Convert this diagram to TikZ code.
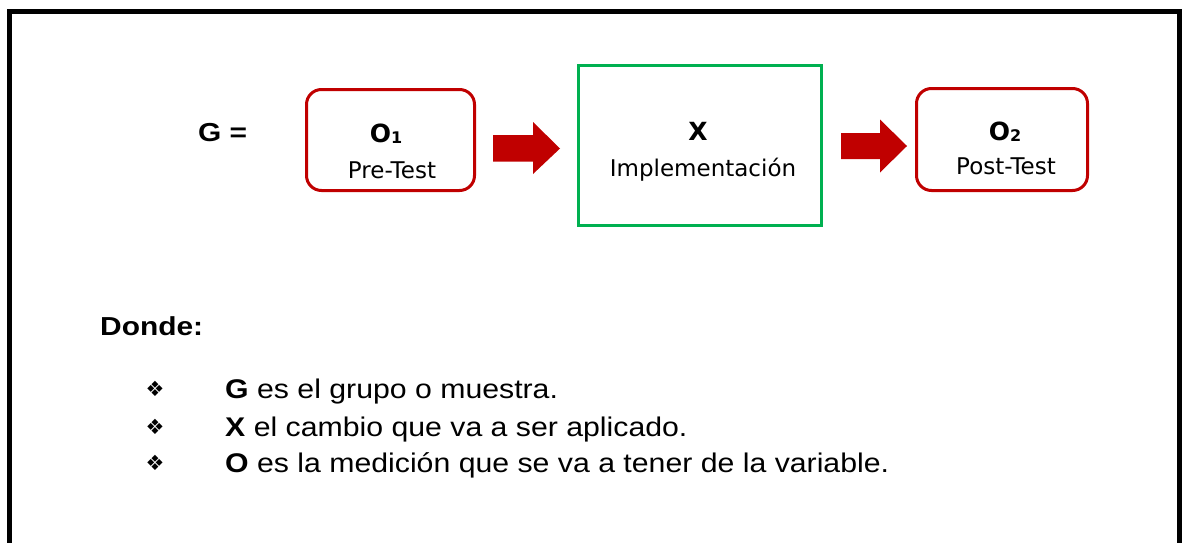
\documentclass[tikz,border=0pt]{standalone}
\usepackage{fontspec}
\setmainfont{Liberation Sans}
\newfontfamily\arialw{Liberation Sans}[FakeStretch=1.12]
\newfontfamily\arialh{Liberation Sans}[FakeStretch=1.15]
\newfontfamily\dvs{DejaVu Sans}
\definecolor{boxred}{HTML}{C00000}
\definecolor{boxgreen}{HTML}{00B050}
\definecolor{arrowred}{HTML}{C00000}
\tikzset{
  redbox/.style={draw=boxred, line width=3pt, rounded corners=15pt, inner sep=0pt},
  greenbox/.style={draw=boxgreen, line width=3pt, inner sep=0pt},
  boxtitle/.style={anchor=base, inner sep=0pt, font=\dvs\bfseries\fontsize{25}{25}\selectfont},
  boxlabel/.style={anchor=base, inner sep=0pt, font=\dvs\fontsize{23}{23}\selectfont},
  bodytext/.style={anchor=base west, inner sep=0pt, font=\arialw\fontsize{27}{27}\selectfont},
  headtext/.style={anchor=base west, inner sep=0pt, font=\arialh\bfseries\fontsize{26}{26}\selectfont},
  bullet/.style={inner sep=0pt, font=\dvs\fontsize{21}{21}\selectfont},
  blockarrow/.style={fill=arrowred}
}
\begin{document}
\begin{tikzpicture}[x=1pt,y=-1pt]
\useasboundingbox (0,0) rectangle (1185,543);
\fill[white] (0,0) rectangle (1185,543);
\begin{scope}
\clip (0,0) rectangle (1185,543);
\draw[line width=5pt] (9.5,560) -- (9.5,11.5) -- (1179.5,11.5) -- (1179.5,560);
\end{scope}

% boxes
\node[redbox, minimum width=168pt, minimum height=101pt] (pre) at (390.5,140) {};
\node[greenbox, minimum width=243pt, minimum height=160pt] (impl) at (700,145.5) {};
\node[redbox, minimum width=171pt, minimum height=102pt] (post) at (1002,139.5) {};

% box texts
\node[boxtitle] (o1) at (386,142) {O\raisebox{-1pt}{\fontsize{16}{16}\selectfont 1}};
\node[boxlabel] (pretxt) at (392,178) {Pre-Test};
\node[boxtitle] (x) at (698,140) {X};
\node[boxlabel] (impltxt) at (703,176) {Implementación};
\node[boxtitle] (o2) at (1005,140) {O\raisebox{-1pt}{\fontsize{16}{16}\selectfont 2}};
\node[boxlabel] (posttxt) at (1006,174) {Post-Test};

% block arrows
\coordinate (a1s) at (493,148.5);
\coordinate (a1t) at (560,148.5);
\fill[blockarrow] (a1s) ++(0,-13.5) -- ++(40,0) -- ++(0,-13) -- (a1t) -- ++(-27,25.5) -- ++(0,-12.5) -- ++(-40,0) -- cycle;
\coordinate (a2s) at (841,146);
\coordinate (a2t) at (907,146);
\fill[blockarrow] (a2s) ++(0,-13) -- ++(39,0) -- ++(0,-13.5) -- (a2t) -- ++(-27,26.5) -- ++(0,-13.5) -- ++(-39,0) -- cycle;

% G =
\node[headtext] (geq) at (198,141) {G =};

% Donde
\node[headtext] (donde) at (100,335) {Donde:};

% bullets
\node[bullet] (b1) at (155,389) {❖};
\node[bullet] (b2) at (155,427) {❖};
\node[bullet] (b3) at (155,463) {❖};
\node[bodytext] (t1) at (225,398) {\textbf{G} es el grupo o muestra.};
\node[bodytext] (t2) at (225,436) {\textbf{X} el cambio que va a ser aplicado.};
\node[bodytext] (t3) at (225,472) {\textbf{O} es la medición que se va a tener de la variable.};
\end{tikzpicture}
\end{document}
